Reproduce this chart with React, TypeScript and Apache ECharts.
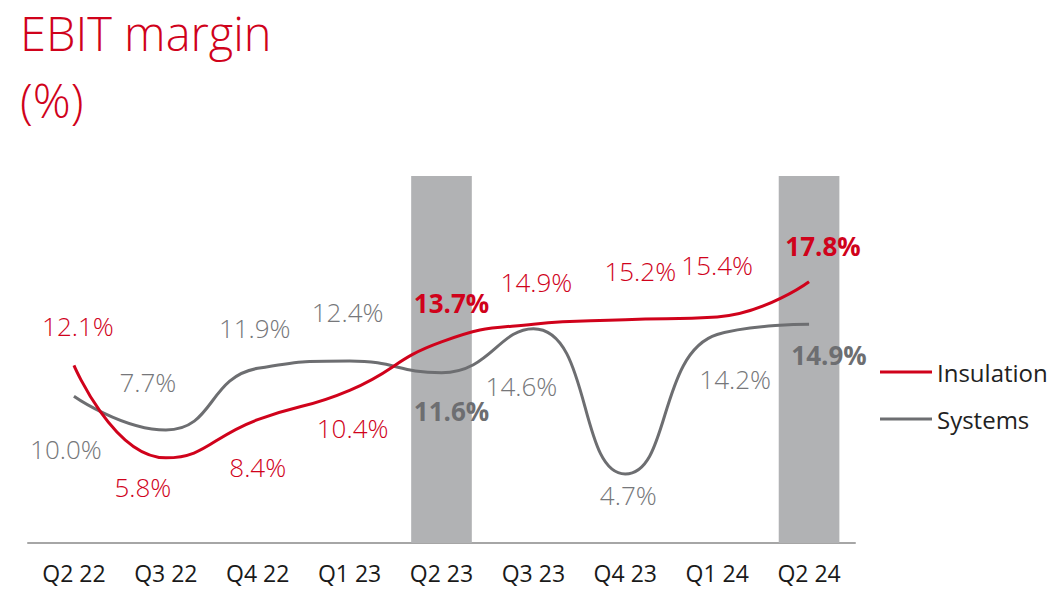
import React, { useEffect, useRef } from "react";
import * as echarts from "echarts";

const categories = ["Q2 22", "Q3 22", "Q4 22", "Q1 23", "Q2 23", "Q3 23", "Q4 23", "Q1 24", "Q2 24"];
const insulation = [12.1, 5.8, 8.4, 10.4, 13.7, 14.9, 15.2, 15.4, 17.8];
const systems = [10.0, 7.7, 11.9, 12.4, 11.6, 14.6, 4.7, 14.2, 14.9];
const highlight = [null, null, null, null, 25, null, null, null, 25];
const boldIdx = [4, 8];
const insulationOffsets = [[4, -39], [-23, 29], [0, 47], [3, 38], [10, -39], [3, -42], [15, -49], [0, -52], [14, -36]];
const systemsOffsets = [[-8, 53], [-18, -48], [-3, -40], [-2, -49], [10, 38], [-12, 57], [3, 21], [18, 44], [20, 31]];

const RED = "#d0021b";
const GRAY = "#6d6e71";
const LABEL_GRAY = "#76777a";
const FONT = "'Open Sans', 'Noto Sans', sans-serif";

function mkData(values: number[], offsets: number[][], color: string, boldColor: string) {
  return values.map((v, i) => {
    const bold = boldIdx.includes(i);
    return {
      value: v,
      label: {
        show: true,
        position: "inside",
        offset: offsets[i],
        formatter: v.toFixed(1) + "%",
        fontFamily: FONT,
        fontSize: 26,
        lineHeight: 30,
        fontWeight: bold ? "bold" : 300,
        color: bold ? boldColor : color,
      },
    };
  });
}

export default function App() {
  const ref = useRef<HTMLDivElement>(null);
  useEffect(() => {
    if (!ref.current) return;
    const chart = echarts.init(ref.current, null, { renderer: "svg" });
    const titleStyle = { fontFamily: FONT, fontSize: 47, fontWeight: 300, color: RED };
    chart.setOption({
      animation: false,
      backgroundColor: "#ffffff",
      title: [
        { text: "EBIT margin", left: 20, top: 6, padding: 0, textStyle: { ...titleStyle, lineHeight: 53 } },
        { text: "(%)", left: 20, top: 72, padding: 0, textStyle: { ...titleStyle, lineHeight: 56 } },
      ],
      legend: {
        orient: "vertical",
        left: 875,
        top: 353,
        data: ["Insulation", "Systems"],
        icon: "rect",
        itemWidth: 52,
        itemHeight: 3,
        itemGap: 19,
        textStyle: { fontFamily: FONT, fontSize: 24, lineHeight: 28, fontWeight: "normal", color: "#222" },
      },
      grid: { left: 28, right: 203, top: 176, bottom: 46 },
      xAxis: {
        type: "category",
        data: categories,
        axisLine: { lineStyle: { color: "#a6a6a6", width: 2 } },
        axisTick: { show: false },
        axisLabel: { fontFamily: FONT, fontSize: 23, fontWeight: "normal", color: "#1a1a1a", margin: 18 },
      },
      yAxis: { type: "value", min: 0, max: 25, show: false, splitLine: { show: false } },
      series: [
        {
          type: "bar",
          data: highlight,
          barWidth: "66%",
          itemStyle: { color: "#b1b2b4" },
          silent: true,
          z: 1,
        },
        {
          name: "Insulation",
          type: "line",
          smooth: 0.5,
          data: mkData(insulation, insulationOffsets, RED, RED),
          symbol: "circle",
          symbolSize: 0,
          showSymbol: true,
          lineStyle: { color: RED, width: 3 },
          itemStyle: { color: RED },
          z: 3,
        },
        {
          name: "Systems",
          type: "line",
          smooth: 0.5,
          data: mkData(systems, systemsOffsets, LABEL_GRAY, GRAY),
          symbol: "circle",
          symbolSize: 0,
          showSymbol: true,
          lineStyle: { color: GRAY, width: 3 },
          itemStyle: { color: GRAY },
          z: 2,
        },
      ],
    });
    return () => chart.dispose();
  }, []);
  return <div ref={ref} style={{ width: 1058, height: 589, position: "absolute", left: 0, top: 0 }} />;
}
